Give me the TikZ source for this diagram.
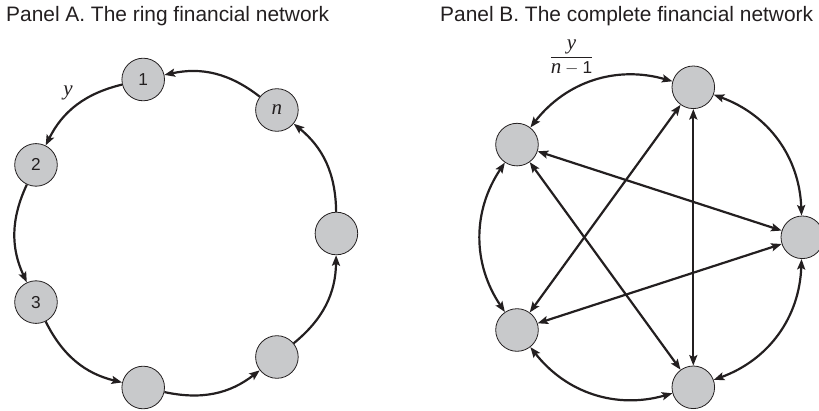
\documentclass[tikz,border=0pt]{standalone}
\usepackage{amsmath}
\usepackage{fontspec}
\setmainfont{Liberation Sans}
\newfontfamily\timesit{Liberation Serif}[ItalicFont=* Italic]
\usetikzlibrary{arrows.meta}
\definecolor{nodegray}{HTML}{C8C9CB}
\definecolor{inkblack}{HTML}{231F20}
\newcommand{\varit}[1]{\text{\fontsize{21}{24}\timesit\itshape #1}}

\begin{document}
\begin{tikzpicture}[x=1pt, y=1pt, >={Stealth[length=10.5pt, width=8pt, inset=2pt]},
  bank/.style={circle, fill=nodegray, draw=inkblack, line width=0.8pt,
               minimum size=42.6pt, inner sep=0pt, text=inkblack,
               font=\fontsize{17.28}{20}\selectfont},
  link/.style={inkblack, line width=2.2pt},
  paneltitle/.style={anchor=base west, inner sep=0pt, text=inkblack,
                     font=\fontsize{20.9}{25}\selectfont},
  flowlabel/.style={inner sep=0pt, text=inkblack, font=\fontsize{17.28}{20}\selectfont}]

\useasboundingbox (0,0) rectangle (819,410);

% Panel A
\node[paneltitle] (titlea) at (6,388) {Panel A. The ring financial network};

\node[bank] (ar) at (336.4,176.5) {};
\node[bank] (an) at (276.9,300.0) {$\varit{n}$};
\node[bank] (a1) at (143.2,330.5) {1};
\node[bank] (a2) at (36.0,245.1) {2};
\node[bank] (a3) at (36.0,107.9) {3};
\node[bank] (a4) at (143.2,22.5) {};
\node[bank] (a5) at (276.9,53.0) {};

\draw[link, ->] (a1) to[bend right=25] (a2);
\draw[link, ->] (a2) to[bend right=25] (a3);
\draw[link, ->] (a3) to[bend right=25] (a4);
\draw[link, ->] (a4) to[bend right=25] (a5);
\draw[link, ->] (a5) to[bend right=25] (ar);
\draw[link, ->] (ar) to[bend right=25] (an);
\draw[link, ->] (an) to[bend right=25] (a1);

\node[flowlabel] (ya) at (68,317) {$\varit{y}$};

% Panel B
\node[paneltitle] (titleb) at (440,388) {Panel B. The complete financial network};

\node[bank] (br) at (802.3,172.7) {};
\node[bank] (bt) at (693.3,322.7) {};
\node[bank] (bul) at (517.0,265.4) {};
\node[bank] (bll) at (517.0,80.0) {};
\node[bank] (bb) at (693.3,22.7) {};

\draw[link, <->] (bt) to[bend right=34] (bul);
\draw[link, <->] (bul) to[bend right=34] (bll);
\draw[link, <->] (bll) to[bend right=34] (bb);
\draw[link, <->] (bb) to[bend right=34] (br);
\draw[link, <->] (br) to[bend right=34] (bt);

\draw[link, <->] (bt) -- (bll);
\draw[link, <->] (bt) -- (bb);
\draw[link, <->] (bul) -- (br);
\draw[link, <->] (bul) -- (bb);
\draw[link, <->] (bll) -- (br);

\node[flowlabel] (yb) at (571.5,352.5) {$\dfrac{\varit{y}}{\varit{n}-\text{1}}$};

\end{tikzpicture}
\end{document}
